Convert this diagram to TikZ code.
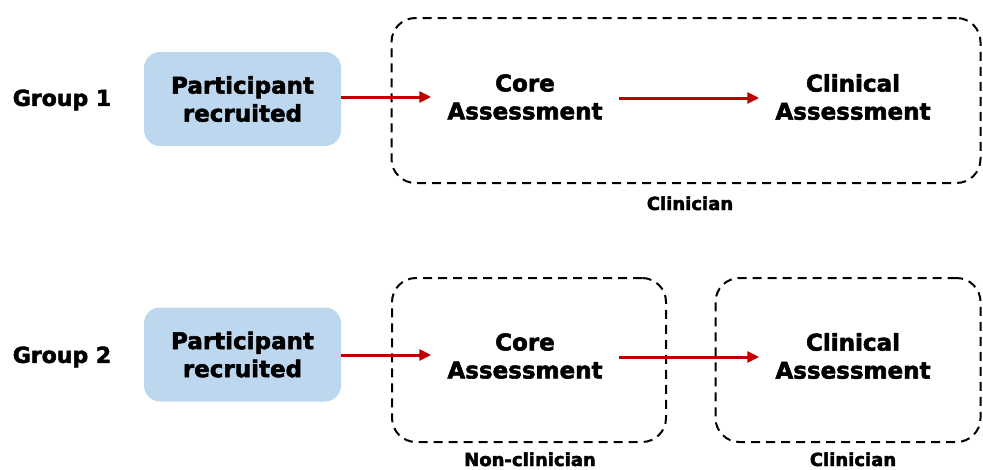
\documentclass[tikz,border=0pt]{standalone}
\usepackage{fontspec}
\setmainfont{DejaVu Sans}[BoldFeatures={FakeBold=2.4}]
\usetikzlibrary{arrows.meta,positioning}

\definecolor{recruitblue}{HTML}{BDD7EE}
\definecolor{flowred}{HTML}{C00000}

\tikzset{
  x=1pt, y=-1pt,
  grouplabel/.style={font=\bfseries\fontsize{22}{26}\selectfont, anchor=center},
  recruitbox/.style={fill=recruitblue, rounded corners=16pt, minimum width=197pt,
    minimum height=94pt, align=center, inner sep=0pt,
    font=\bfseries\fontsize{23}{28}\selectfont},
  stagetext/.style={align=center, inner xsep=16pt, inner ysep=0pt,
    font=\bfseries\fontsize{23}{28}\selectfont},
  rolebox/.style={draw, dash pattern=on 9pt off 6pt, line width=2pt,
    rounded corners=24pt, inner sep=0pt},
  rolelabel/.style={font=\bfseries\fontsize{18}{22}\selectfont, anchor=base,
    inner sep=0pt},
  flow/.style={draw=flowred, line width=3pt,
    -{Triangle[length=12pt,width=11pt]}}
}

\begin{document}
\begin{tikzpicture}
\useasboundingbox (0,0) rectangle (983,469);

% ---- Group 1: one clinician does both assessments ----
\node[grouplabel] (g1) at (62,100) {Group 1};
\node[recruitbox] (rec1) at (242.5,99) {Participant\\recruited};
\node[rolebox, minimum width=589pt, minimum height=165pt] (role1) at (686,100.5) {};
\node[stagetext] (core1) at (525,97) {Core\\Assessment};
\node[stagetext] (clin1) at (853,97) {Clinical\\Assessment};
\node[rolelabel] (lab1) at (690,210) {Clinician};

\draw[flow] (rec1.east |- 0,97) -- (core1.west |- 0,97);
\draw[flow] (core1.east |- 0,98) -- (clin1.west |- 0,98);

% ---- Group 2: non-clinician core, clinician clinical ----
\node[grouplabel] (g2) at (62,357) {Group 2};
\node[recruitbox] (rec2) at (242.5,354.5) {Participant\\recruited};
\node[rolebox, minimum width=274pt, minimum height=164pt] (role2a) at (529,360) {};
\node[rolebox, minimum width=265pt, minimum height=164pt] (role2b) at (848,360) {};
\node[stagetext] (core2) at (525,356) {Core\\Assessment};
\node[stagetext] (clin2) at (853,356) {Clinical\\Assessment};
\node[rolelabel] (lab2a) at (530,466) {Non-clinician};
\node[rolelabel] (lab2b) at (853,466) {Clinician};

\draw[flow] (rec2.east |- 0,355) -- (core2.west |- 0,355);
\draw[flow] (core2.east |- 0,357) -- (clin2.west |- 0,357);
\end{tikzpicture}
\end{document}
